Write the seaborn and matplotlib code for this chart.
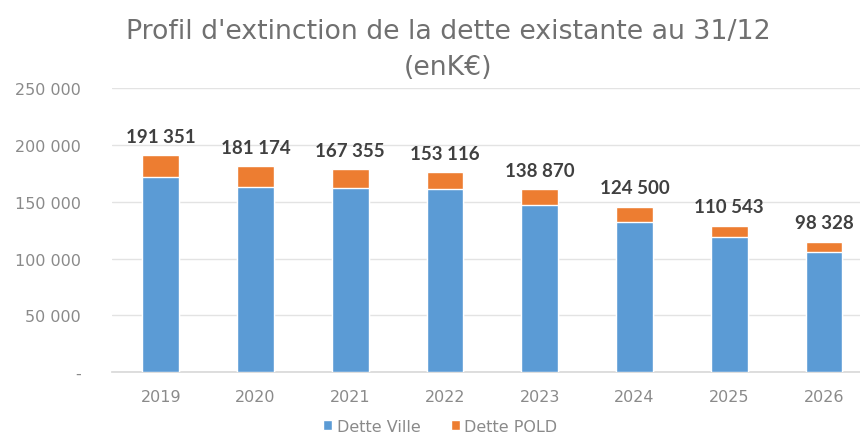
import matplotlib
matplotlib.use("Agg")
import matplotlib.pyplot as plt
from matplotlib.patches import Patch
from matplotlib.ticker import FixedLocator
import numpy as np
import pandas as pd
import seaborn as sns

# Outstanding debt at 31/12 (k€)
years = ["2019", "2020", "2021", "2022", "2023", "2024", "2025", "2026"]
dette_ville = [172200, 163400, 162000, 161400, 147300, 132500, 118800, 105500]
dette_pold = [19151, 17774, 17000, 14700, 13500, 13300, 10200, 9400]
total_labels = ["191 351", "181 174", "167 355", "153 116",
                "138 870", "124 500", "110 543", "98 328"]
ytick_values = [0, 50000, 100000, 150000, 200000, 250000]
ytick_labels = ["-", "50 000", "100 000", "150 000", "200 000", "250 000"]

BLUE = "#5B9BD5"
ORANGE = "#ED7D31"
GREY = "#8A8A8A"
DARK = "#404040"

sns.set_theme(style="white")
plt.rcParams["font.family"] = ["DejaVu Sans"]

df = pd.DataFrame({
    "annee": years,
    "ville": dette_ville,
    "pold": dette_pold,
})
df["total"] = df["ville"] + df["pold"]

fig = plt.figure(figsize=(8.6, 4.39), dpi=100)
ax = fig.add_axes([0.130, 0.150, 0.870, 0.647])

# stacked bars: full total in orange, city debt on top of it in blue
sns.barplot(data=df, x="annee", y="total", color=ORANGE, width=0.39,
            saturation=1, ax=ax, zorder=3)
sns.barplot(data=df, x="annee", y="ville", color=BLUE, width=0.39,
            saturation=1, ax=ax, zorder=4)

ax.set_xlim(-0.517, 7.38)
ax.set_ylim(0, 250000)
ax.yaxis.set_major_locator(FixedLocator(ytick_values))
ax.set_yticklabels(ytick_labels)
ax.grid(axis="y", color="#E3E3E3", linewidth=1, zorder=0)
ax.set_axisbelow(True)
for side in ["top", "right", "left"]:
    ax.spines[side].set_visible(False)
ax.spines["bottom"].set_color("#D9D9D9")
ax.tick_params(axis="both", length=0, colors=GREY, labelsize=11.5)
ax.tick_params(axis="x", pad=12)
ax.tick_params(axis="y", pad=22)
ax.set_xlabel("")
ax.set_ylabel("")

# value labels above each bar
for i, (tot, txt) in enumerate(zip(df["total"], total_labels)):
    ax.annotate(txt, (i, tot), xytext=(0, 13.5), textcoords="offset points",
                ha="center", va="center", fontsize=13.5, fontweight="bold",
                color=DARK, family="Lato", zorder=5)

fig.text(0.521, 0.911, "Profil d'extinction de la dette existante au 31/12",
         ha="center", va="baseline", fontsize=19.3, color="#707070")
fig.text(0.521, 0.829, "(enK€)",
         ha="center", va="baseline", fontsize=19.3, color="#707070")

handles = [Patch(facecolor=BLUE, label="Dette Ville"),
           Patch(facecolor=ORANGE, label="Dette POLD")]
fig.legend(handles=handles, loc="center", bbox_to_anchor=(0.512, 0.027),
           ncol=2, frameon=False, fontsize=11.5, labelcolor=GREY,
           handlelength=0.55, handleheight=0.55, handletextpad=0.3,
           columnspacing=1.9, borderpad=0.1)

fig.savefig("out.png", dpi=100)
